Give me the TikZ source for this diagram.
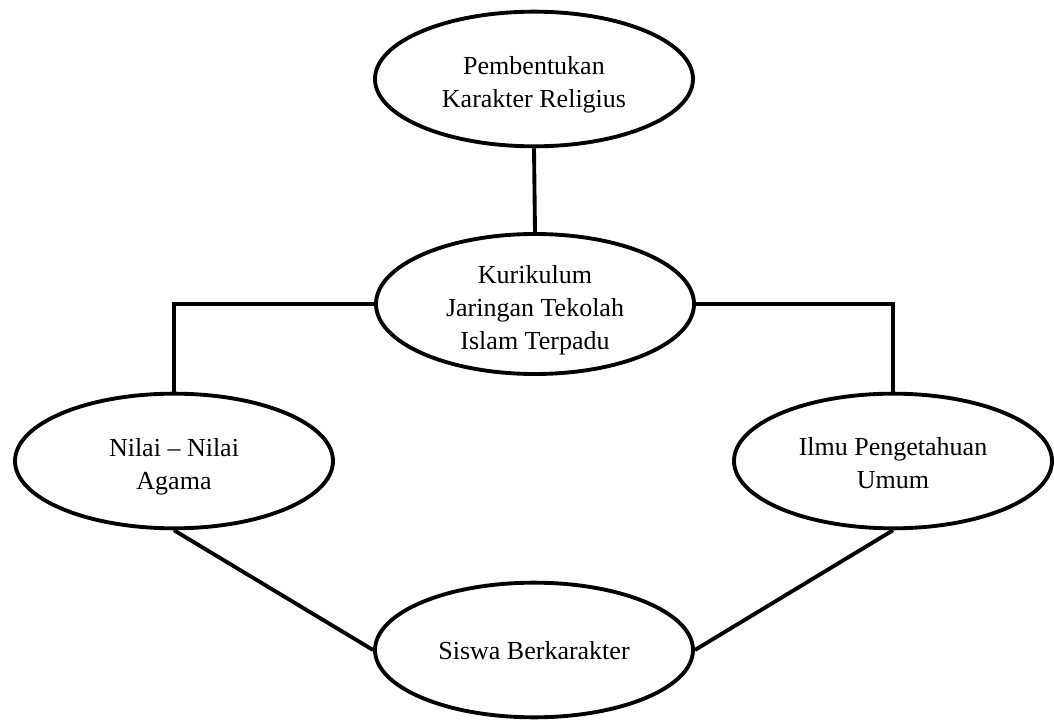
\documentclass[tikz,border=0pt]{standalone}
\usepackage{fontspec}
\setmainfont{Liberation Serif}
\usetikzlibrary{shapes.geometric}
\newcommand{\lowtxt}[2]{\raisebox{-#1}[\height][\depth]{\begin{tabular}{@{}c@{}}#2\end{tabular}}}
\begin{document}
\begin{tikzpicture}[x=0.75pt,y=-0.75pt,
  oval/.style={draw=black,ellipse,line width=2.9pt,inner sep=0pt,
    minimum width=238.5pt,minimum height=101pt,
    font=\fontsize{19.5}{24.75}\selectfont},
  link/.style={draw=black,line width=2.9pt}]
\useasboundingbox (0,0) rectangle (1054,720);
\node[oval] (top) at (534,79) {\lowtxt{4.2pt}{Pembentukan\\Karakter Religius}};
\node[oval] (mid) at (535,304) {\lowtxt{4.5pt}{Kurikulum\\Jaringan Tekolah\\Islam Terpadu}};
\node[oval] (left) at (174,461) {\lowtxt{4.2pt}{Nilai -- Nilai\\Agama}};
\node[oval] (right) at (893,461) {\lowtxt{3pt}{Ilmu Pengetahuan\\Umum}};
\node[oval] (bot) at (534,650) {\lowtxt{2pt}{Siswa Berkarakter}};
\draw[link] (top.south) -- (mid.north);
\draw[link] (mid.west) -| (left.north);
\draw[link] (mid.east) -| (right.north);
\draw[link] (left.south) -- (bot.west);
\draw[link] (right.south) -- (bot.east);
\end{tikzpicture}
\end{document}
